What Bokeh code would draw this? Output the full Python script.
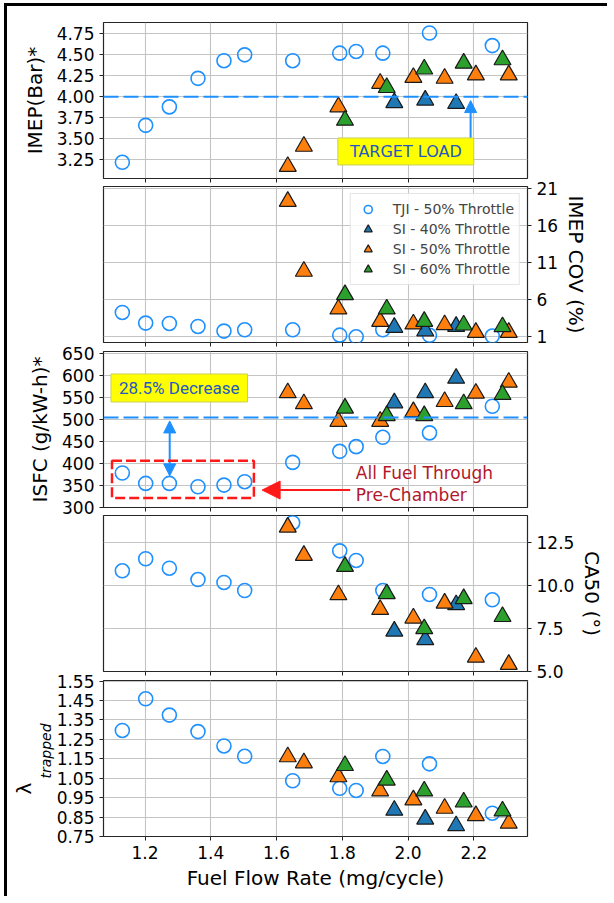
from bokeh.plotting import figure
from bokeh.layouts import column
from bokeh.models import (Range1d, FixedTicker, NumeralTickFormatter, Span, Label, Arrow,
                          NormalHead, BoxAnnotation, CustomLabelingPolicy, Title)
from bokeh.embed import file_html
from bokeh.resources import INLINE

# ---------------- data ----------------
tji_x = [1.131, 1.202, 1.274, 1.361, 1.440, 1.503, 1.649, 1.792, 1.842, 1.923, 2.065, 2.256]
si40_x = [1.958, 2.052, 2.146]
si50_x = [1.634, 1.683, 1.788, 1.915, 2.016, 2.111, 2.206, 2.306]
si60_x = [1.808, 1.935, 2.049, 2.169, 2.287]

imep_tji = [3.22, 3.66, 3.88, 4.22, 4.43, 4.50, 4.43, 4.52, 4.54, 4.52, 4.76, 4.61]
imep_si40 = [3.93, 3.96, 3.92]
imep_si50 = [3.17, 3.41, 3.88, 4.16, 4.23, 4.22, 4.26, 4.26]
imep_si60 = [3.72, 4.11, 4.33, 4.40, 4.44]

cov_tji = [4.29, 2.85, 2.80, 2.40, 1.77, 1.95, 1.95, 1.22, 1.00, 1.95, 1.20, 1.10]
cov_si40 = [2.27, 1.80, 2.40]
cov_si50 = [19.28, 9.84, 4.75, 3.07, 2.72, 2.62, 1.59, 1.59]
cov_si60 = [6.69, 4.75, 3.07, 2.58, 2.35]

isfc_tji = [378.5, 354.8, 354.8, 347.2, 351.0, 358.7, 402.7, 427.8, 438.5, 459.8, 469.8, 530.4]
isfc_si40 = [538, 561, 594]
isfc_si50 = [561, 536, 496, 496, 518, 541, 560, 585]
isfc_si60 = [526, 509, 509, 536, 557]

ca50_tji = [10.87, 11.57, 11.02, 10.36, 10.19, 9.72, 13.67, 12.03, 11.47, 9.72, 9.49, 9.18]
ca50_si40 = [7.35, 6.85, 8.89]
ca50_si50 = [13.41, 11.76, 9.47, 8.61, 8.11, 8.98, 5.83, 5.41]
ca50_si60 = [11.12, 9.53, 7.49, 9.24, 8.20]

lam_tji = [1.296, 1.459, 1.375, 1.290, 1.216, 1.163, 1.037, 0.998, 0.987, 1.162, 1.124, 0.870]
lam_si40 = [0.885, 0.839, 0.805]
lam_si50 = [1.160, 1.129, 1.057, 0.984, 0.938, 0.895, 0.857, 0.818]
lam_si60 = [1.115, 1.040, 0.984, 0.927, 0.881]

x_ticks = [1.2, 1.4, 1.6, 1.8, 2.0, 2.2]
imep_ticks = [3.25, 3.50, 3.75, 4.00, 4.25, 4.50, 4.75]
cov_ticks = [1, 6, 11, 16, 21]
isfc_ticks = [300, 350, 400, 450, 500, 550, 600, 650]
ca50_ticks = [5.0, 7.5, 10.0, 12.5]
lam_ticks = [0.75, 0.85, 0.95, 1.05, 1.15, 1.25, 1.35, 1.45, 1.55]

series_labels = ["TJI - 50% Throttle", "SI - 40% Throttle", "SI - 50% Throttle", "SI - 60% Throttle"]

imep_target = 4.0
isfc_ref = 505
# ---------------------------------------

TJI_C = "#1e90ff"
C40 = "#1f77b4"
C50 = "#ff7f0e"
C60 = "#2ca02c"
FONT = "DejaVu Sans"
X_RANGE = (1.0737, 2.363)


def make_panel(yr, yticks, yfmt, yside, ylabel, top, bottom, shift, xlabels=False):
    p = figure(frame_width=424, frame_height=156,
               x_range=Range1d(*X_RANGE), y_range=Range1d(*yr),
               y_axis_location=yside, toolbar_location=None, output_backend="svg",
               min_border_left=96, min_border_right=78,
               min_border_top=top, min_border_bottom=bottom)
    if shift:
        p.styles = {"margin-top": f"{shift}px"}
    p.background_fill_color = "white"
    p.border_fill_alpha = 0
    p.outline_line_color = "#262626"
    p.outline_line_width = 1.2
    p.grid.grid_line_color = "#c4c4c4"
    p.grid.grid_line_width = 1.1

    xa = p.xaxis[0]
    xa.ticker = FixedTicker(ticks=x_ticks)
    xa.formatter = NumeralTickFormatter(format="0.0")
    ya = p.yaxis[0]
    ya.ticker = FixedTicker(ticks=yticks)
    ya.formatter = NumeralTickFormatter(format=yfmt)
    for ax in (xa, ya):
        ax.axis_line_color = None
        ax.major_tick_in = 0
        ax.major_tick_out = 4
        ax.major_tick_line_color = "#222222"
        ax.minor_tick_line_color = None
        ax.major_label_text_font = FONT
        ax.major_label_text_font_size = "17px"
        ax.major_label_text_color = "black"
        ax.axis_label_text_font = FONT
        ax.axis_label_text_font_size = "20px"
        ax.axis_label_text_font_style = "normal"
        ax.axis_label_text_color = "black"
    if ylabel:
        ya.axis_label = ylabel
        ya.axis_label_standoff = 7 if yside == "left" else 3
    if xlabels:
        xa.axis_label = "Fuel Flow Rate (mg/cycle)"
        xa.axis_label_standoff = 4
    else:
        # shared x axis: tick marks only, no tick labels
        xa.major_label_text_font_size = "0px"
        xa.major_label_standoff = 0
        xa.major_label_policy = CustomLabelingPolicy(code="return []")
    return p


def add_points(p, ys, legend=False):
    kw = [dict(legend_label=l) if legend else {} for l in series_labels]
    p.scatter(tji_x, ys[0], marker="circle", size=14, fill_color=None,
              line_color=TJI_C, line_width=1.6, **kw[0])
    for xs, yv, c, k in ((si40_x, ys[1], C40, kw[1]), (si50_x, ys[2], C50, kw[2]),
                         (si60_x, ys[3], C60, kw[3])):
        p.scatter(xs, yv, marker="triangle", size=17, fill_color=c,
                  line_color="#1a1a1a", line_width=1.2, **k)


# Panel 1: IMEP
p1 = make_panel((3.027, 4.885), imep_ticks, "0.00", "left", "IMEP(Bar)*", 16, 14, 0)
add_points(p1, [imep_tji, imep_si40, imep_si50, imep_si60])
p1.add_layout(Span(location=imep_target, dimension="width", line_color=TJI_C,
                   line_width=2, line_dash="15 5"))
p1.add_layout(Arrow(end=NormalHead(size=12, fill_color=TJI_C, line_color=TJI_C),
                    x_start=2.19, y_start=3.50, x_end=2.19, y_end=3.955,
                    line_color=TJI_C, line_width=2))
p1.add_layout(Label(x=1.993, y=3.349, text="TARGET LOAD", text_align="center",
                    text_baseline="middle", text_font=FONT, text_font_size="16px",
                    text_color="#2258c4", background_fill_color="#ffff00",
                    border_line_color="#c9cf5a", border_line_width=1,
                    padding=dict(left=12, right=12, top=4, bottom=4)))

# Panel 2: IMEP COV
p2 = make_panel((0.23, 21.3), cov_ticks, "0", "right", "IMEP COV (%)", 14, 14, -20)
add_points(p2, [cov_tji, cov_si40, cov_si50, cov_si60], legend=True)
lg = p2.legend[0]
lg.location = "top_right"
lg.margin = 7
lg.padding = 5
lg.spacing = 0
lg.label_height = 20
lg.glyph_height = 20
lg.glyph_width = 24
lg.label_standoff = 13
lg.label_text_font = FONT
lg.label_text_font_size = "14px"
lg.border_line_color = "#cccccc"
lg.border_line_width = 1
lg.background_fill_alpha = 0.85

# Panel 3: ISFC
p3 = make_panel((300, 655), isfc_ticks, "0", "left", "ISFC (g/kW-h)*", 14, 14, -19)
add_points(p3, [isfc_tji, isfc_si40, isfc_si50, isfc_si60])
p3.add_layout(Span(location=isfc_ref, dimension="width", line_color=TJI_C,
                   line_width=2, line_dash="15 5"))
p3.add_layout(Label(x=1.304, y=572, text="28.5% Decrease", text_align="center",
                    text_baseline="middle", text_font="Roboto",
                    text_font_size="17px", text_color="#2258c4",
                    background_fill_color="#ffff00", border_line_color="#c9cf5a",
                    border_line_width=1,
                    padding=dict(left=8, right=8, top=4, bottom=4)))
p3.add_layout(Arrow(start=NormalHead(size=12, fill_color=TJI_C, line_color=TJI_C),
                    end=NormalHead(size=12, fill_color=TJI_C, line_color=TJI_C),
                    x_start=1.275, y_start=497, x_end=1.275, y_end=372,
                    line_color=TJI_C, line_width=2))
p3.add_layout(BoxAnnotation(left=1.0995, right=1.531, bottom=321.5, top=406.6,
                            fill_alpha=0, line_color="#ff1a1a", line_alpha=1.0,
                            line_width=2.5, line_dash="10 4"))
p3.add_layout(Arrow(end=NormalHead(size=18, fill_color="#ff1a1a", line_color="#ff1a1a"),
                    x_start=1.824, y_start=339.7, x_end=1.556, y_end=339.7,
                    line_color="#ff1a1a", line_width=2))
for txt, yy in (("All Fuel Through", 378.5), ("Pre-Chamber", 329)):
    p3.add_layout(Label(x=1.841, y=yy, text=txt, text_align="left", text_baseline="middle",
                        text_font=FONT, text_font_size="17px", text_color="#b2182b"))

# Panel 4: CA50
p4 = make_panel((5.0, 14.09), ca50_ticks, "0.0", "right", "CA50 (°)", 14, 14, -20)
add_points(p4, [ca50_tji, ca50_si40, ca50_si50, ca50_si60])

# Panel 5: lambda_trapped (label built from two side titles: symbol + italic subscript)
p5 = make_panel((0.75, 1.553), lam_ticks, "0.00", "left", None, 14, 60, -19, xlabels=True)
add_points(p5, [lam_tji, lam_si40, lam_si50, lam_si60])
p5.add_layout(Title(text="trapped", align="left", offset=58, standoff=0,
                    text_font=FONT, text_font_size="14px", text_font_style="italic",
                    text_color="black"), "left")
p5.add_layout(Title(text="λ", align="left", offset=42, standoff=0,
                    text_font=FONT, text_font_size="20px", text_font_style="normal",
                    text_color="black"), "left")

layout = column(p1, p2, p3, p4, p5, spacing=0,
                styles={"border-left": "3px solid black", "border-top": "3px solid black",
                        "margin-left": "4px", "margin-top": "3px"})

open("out.html", "w").write(file_html(layout, INLINE))
